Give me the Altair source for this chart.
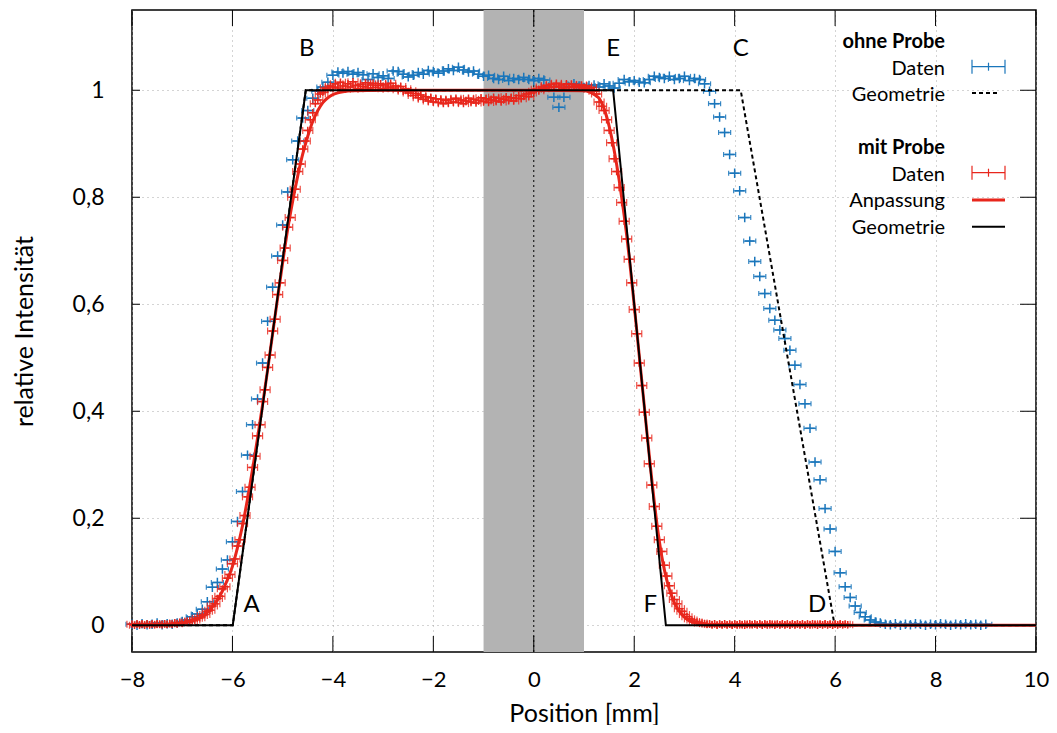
import altair as alt
import pandas as pd

# ------------------------------------------------------------------ data
# "ohne Probe" (without sample) measured intensity, step scan
blue_pos = [
    -8.0, -7.9, -7.8, -7.7, -7.6, -7.5, -7.4, -7.3, -7.2, -7.1,
    -7.0, -6.9, -6.8, -6.7, -6.6, -6.5, -6.4, -6.3, -6.2, -6.1,
    -6.0, -5.9, -5.8, -5.7, -5.6, -5.5, -5.4, -5.3, -5.2, -5.1,
    -5.0, -4.9, -4.8, -4.7, -4.6, -4.5, -4.4, -4.3, -4.2, -4.1,
    -4.0, -3.9, -3.8, -3.7, -3.6, -3.5, -3.4, -3.3, -3.2, -3.1,
    -3.0, -2.9, -2.8, -2.7, -2.6, -2.5, -2.4, -2.3, -2.2, -2.1,
    -2.0, -1.9, -1.8, -1.7, -1.6, -1.5, -1.4, -1.3, -1.2, -1.1,
    -1.0, -0.9, -0.8, -0.7, -0.6, -0.5, -0.4, -0.3, -0.2, -0.1,
    0.0, 0.1, 0.2, 0.3, 0.4, 0.5, 0.6, 0.7, 0.8, 0.9,
    1.0, 1.1, 1.2, 1.3, 1.4, 1.5, 1.6, 1.7, 1.8, 1.9,
    2.0, 2.1, 2.2, 2.3, 2.4, 2.5, 2.6, 2.7, 2.8, 2.9,
    3.0, 3.1, 3.2, 3.3, 3.4, 3.5, 3.6, 3.7, 3.8, 3.9,
    4.0, 4.1, 4.2, 4.3, 4.4, 4.5, 4.6, 4.7, 4.8, 4.9,
    5.0, 5.1, 5.2, 5.3, 5.4, 5.5, 5.6, 5.7, 5.8, 5.9,
    6.0, 6.1, 6.2, 6.3, 6.4, 6.5, 6.6, 6.7, 6.8, 6.9,
    7.0, 7.1, 7.2, 7.3, 7.4, 7.5, 7.6, 7.7, 7.8, 7.9,
    8.0, 8.1, 8.2, 8.3, 8.4, 8.5, 8.6, 8.7, 8.8, 8.9,
    9.0,
]
blue_int = [
    0.002, 0.000, 0.003, 0.001, 0.002, 0.004, 0.001, 0.003, 0.002, 0.004,
    0.007, 0.010, 0.016, 0.021, 0.030, 0.044, 0.071, 0.080, 0.105, 0.122,
    0.156, 0.194, 0.250, 0.318, 0.375, 0.423, 0.490, 0.568, 0.632, 0.690,
    0.748, 0.810, 0.870, 0.905, 0.948, 0.962, 0.985, 0.998, 1.006, 1.015,
    1.028, 1.034, 1.032, 1.035, 1.030, 1.033, 1.029, 1.020, 1.031, 1.024,
    1.027, 1.022, 1.036, 1.035, 1.030, 1.025, 1.028, 1.033, 1.030, 1.037,
    1.035, 1.032, 1.036, 1.040, 1.037, 1.043, 1.038, 1.034, 1.036, 1.030,
    1.026, 1.028, 1.022, 1.020, 1.026, 1.018, 1.022, 1.020, 1.024, 1.020,
    1.018, 1.022, 1.019, 1.006, 0.987, 0.968, 0.987, 1.006, 1.012, 1.008,
    1.005, 1.009, 1.010, 1.006, 1.012, 1.008, 1.004, 1.013, 1.020, 1.016,
    1.018, 1.015, 1.014, 1.020, 1.026, 1.024, 1.022, 1.026, 1.020, 1.022,
    1.026, 1.018, 1.022, 1.020, 1.012, 0.998, 0.975, 0.950, 0.921, 0.880,
    0.845, 0.812, 0.762, 0.718, 0.680, 0.652, 0.620, 0.592, 0.570, 0.552,
    0.536, 0.514, 0.486, 0.450, 0.414, 0.368, 0.305, 0.272, 0.218, 0.180,
    0.138, 0.098, 0.072, 0.052, 0.036, 0.024, 0.016, 0.010, 0.006, 0.004,
    0.002, 0.001, 0.003, 0.000, 0.002, 0.001, 0.003, 0.002, 0.000, 0.002,
    0.001, 0.003, 0.002, 0.000, 0.002, 0.001, 0.003, 0.001, 0.002, 0.000,
    0.002,
]
blue_err = 0.12

# "mit Probe" (with sample) measured intensity
red_pos = [
    -8.00, -7.95, -7.90, -7.85, -7.80, -7.75, -7.70, -7.65, -7.60, -7.55,
    -7.50, -7.45, -7.40, -7.35, -7.30, -7.25, -7.20, -7.15, -7.10, -7.05,
    -7.00, -6.95, -6.90, -6.85, -6.80, -6.75, -6.70, -6.65, -6.60, -6.55,
    -6.50, -6.45, -6.40, -6.35, -6.30, -6.25, -6.20, -6.15, -6.10, -6.05,
    -6.00, -5.95, -5.90, -5.85, -5.80, -5.75, -5.70, -5.65, -5.60, -5.55,
    -5.50, -5.45, -5.40, -5.35, -5.30, -5.25, -5.20, -5.15, -5.10, -5.05,
    -5.00, -4.95, -4.90, -4.85, -4.80, -4.75, -4.70, -4.65, -4.60, -4.55,
    -4.50, -4.45, -4.40, -4.35, -4.30, -4.25, -4.20, -4.15, -4.10, -4.05,
    -4.00, -3.95, -3.90, -3.85, -3.80, -3.75, -3.70, -3.65, -3.60, -3.55,
    -3.50, -3.45, -3.40, -3.35, -3.30, -3.25, -3.20, -3.15, -3.10, -3.05,
    -3.00, -2.95, -2.90, -2.85, -2.80, -2.75, -2.70, -2.65, -2.60, -2.55,
    -2.50, -2.45, -2.40, -2.35, -2.30, -2.25, -2.20, -2.15, -2.10, -2.05,
    -2.00, -1.95, -1.90, -1.85, -1.80, -1.75, -1.70, -1.65, -1.60, -1.55,
    -1.50, -1.45, -1.40, -1.35, -1.30, -1.25, -1.20, -1.15, -1.10, -1.05,
    -1.00, -0.95, -0.90, -0.85, -0.80, -0.75, -0.70, -0.65, -0.60, -0.55,
    -0.50, -0.45, -0.40, -0.35, -0.30, -0.25, -0.20, -0.15, -0.10, -0.05,
    0.00, 0.05, 0.10, 0.15, 0.20, 0.25, 0.30, 0.35, 0.40, 0.45,
    0.50, 0.55, 0.60, 0.65, 0.70, 0.75, 0.80, 0.85, 0.90, 0.95,
    1.00, 1.05, 1.10, 1.15, 1.20, 1.25, 1.30, 1.35, 1.40, 1.45,
    1.50, 1.55, 1.60, 1.65, 1.70, 1.75, 1.80, 1.85, 1.90, 1.95,
    2.00, 2.05, 2.10, 2.15, 2.20, 2.25, 2.30, 2.35, 2.40, 2.45,
    2.50, 2.55, 2.60, 2.65, 2.70, 2.75, 2.80, 2.85, 2.90, 2.95,
    3.00, 3.05, 3.10, 3.15, 3.20, 3.25, 3.30, 3.35, 3.40, 3.45,
    3.50, 3.55, 3.60, 3.65, 3.70, 3.75, 3.80, 3.85, 3.90, 3.95,
    4.00, 4.05, 4.10, 4.15, 4.20, 4.25, 4.30, 4.35, 4.40, 4.45,
    4.50, 4.55, 4.60, 4.65, 4.70, 4.75, 4.80, 4.85, 4.90, 4.95,
    5.00, 5.05, 5.10, 5.15, 5.20, 5.25, 5.30, 5.35, 5.40, 5.45,
    5.50, 5.55, 5.60, 5.65, 5.70, 5.75, 5.80, 5.85, 5.90, 5.95,
    6.00, 6.05, 6.10, 6.15, 6.20, 6.25,
]
red_int = [
    0.002, 0.000, 0.003, 0.001, 0.002, 0.000, 0.003, 0.001, 0.002, 0.001,
    0.003, 0.002, 0.001, 0.003, 0.002, 0.003, 0.002, 0.004, 0.003, 0.005,
    0.004, 0.006, 0.006, 0.008, 0.009, 0.010, 0.013, 0.014, 0.018, 0.020,
    0.026, 0.028, 0.036, 0.040, 0.050, 0.054, 0.068, 0.072, 0.088, 0.095,
    0.115, 0.124, 0.148, 0.160, 0.190, 0.205, 0.240, 0.258, 0.295, 0.316,
    0.354, 0.375, 0.418, 0.440, 0.482, 0.505, 0.550, 0.572, 0.618, 0.640,
    0.682, 0.705, 0.744, 0.762, 0.800, 0.815, 0.848, 0.862, 0.890, 0.905,
    0.925, 0.945, 0.958, 0.975, 0.982, 0.993, 0.996, 1.004, 1.002, 1.008,
    1.006, 1.012, 1.004, 1.015, 1.008, 1.002, 1.012, 1.006, 1.016, 1.009,
    1.003, 1.011, 1.007, 1.014, 1.004, 1.010, 1.013, 1.005, 1.009, 1.012,
    1.003, 1.010, 1.006, 1.013, 1.004, 1.008, 1.001, 1.007, 0.998, 1.003,
    0.995, 0.999, 0.990, 0.994, 0.986, 0.991, 0.983, 0.988, 0.980, 0.986,
    0.978, 0.984, 0.977, 0.983, 0.975, 0.981, 0.976, 0.983, 0.978, 0.985,
    0.977, 0.982, 0.975, 0.980, 0.985, 0.978, 0.983, 0.976, 0.981, 0.986,
    0.979, 0.984, 0.977, 0.982, 0.987, 0.980, 0.985, 0.978, 0.983, 0.988,
    0.981, 0.986, 0.980, 0.985, 0.990, 0.984, 0.989, 0.993, 0.988, 0.995,
    0.998, 1.002, 0.999, 1.006, 1.003, 1.009, 1.005, 1.011, 1.007, 1.013,
    1.006, 1.010, 1.004, 1.012, 1.007, 1.011, 1.005, 1.009, 1.006, 1.010,
    1.004, 1.008, 1.002, 1.005, 0.998, 0.993, 0.978, 0.970, 0.962, 0.945,
    0.925, 0.902, 0.872, 0.848, 0.818, 0.790, 0.755, 0.722, 0.684, 0.640,
    0.590, 0.545, 0.490, 0.448, 0.398, 0.350, 0.302, 0.262, 0.222, 0.185,
    0.160, 0.138, 0.112, 0.092, 0.074, 0.060, 0.048, 0.040, 0.031, 0.026,
    0.020, 0.016, 0.012, 0.010, 0.007, 0.006, 0.004, 0.004, 0.003, 0.002,
    0.002, 0.001, 0.003, 0.000, 0.002, 0.001, 0.003, 0.001, 0.002, 0.000,
    0.002, 0.001, 0.003, 0.001, 0.000, 0.002, 0.003, 0.001, 0.002, 0.001,
    0.003, 0.000, 0.002, 0.001, 0.003, 0.002, 0.000, 0.002, 0.001, 0.003,
    0.001, 0.002, 0.000, 0.003, 0.001, 0.002, 0.001, 0.003, 0.000, 0.002,
    0.001, 0.003, 0.002, 0.000, 0.002, 0.001, 0.003, 0.001, 0.002, 0.000,
    0.002, 0.001, 0.003, 0.001, 0.002, 0.001,
]
red_err = 0.10

# fitted curve ("Anpassung")
fit_pos = [
    -8.0, -7.6, -7.4, -7.2, -7.0, -6.9, -6.8, -6.7, -6.6, -6.5,
    -6.4, -6.3, -6.2, -6.1, -6.0, -5.9, -5.8, -5.7, -5.6, -5.5,
    -5.4, -5.3, -5.2, -5.1, -5.0, -4.9, -4.8, -4.7, -4.6, -4.5,
    -4.4, -4.3, -4.2, -4.1, -4.0, -3.9, -3.8, -3.6, -3.0, 0.0,
    1.0, 1.1, 1.2, 1.25, 1.3, 1.35, 1.4, 1.45, 1.5, 1.55,
    1.6, 1.65, 1.7, 1.75, 1.8, 1.85, 1.9, 1.95, 2.0, 2.05,
    2.1, 2.15, 2.2, 2.25, 2.3, 2.35, 2.4, 2.45, 2.5, 2.55,
    2.6, 2.65, 2.7, 2.75, 2.8, 2.85, 2.9, 2.95, 3.0, 3.1,
    3.2, 3.3, 3.4, 3.6, 10.0,
]
fit_int = [
    0.000, 0.001, 0.001, 0.002, 0.004, 0.006, 0.008, 0.012, 0.017, 0.024,
    0.034, 0.047, 0.064, 0.085, 0.110, 0.145, 0.186, 0.236, 0.291, 0.350,
    0.412, 0.477, 0.545, 0.612, 0.678, 0.740, 0.793, 0.840, 0.881, 0.914,
    0.942, 0.962, 0.977, 0.986, 0.992, 0.995, 0.997, 0.999, 1.000, 1.000,
    0.999, 0.997, 0.992, 0.989, 0.985, 0.977, 0.966, 0.951, 0.933, 0.912,
    0.888, 0.861, 0.832, 0.800, 0.766, 0.729, 0.688, 0.644, 0.598, 0.551,
    0.504, 0.457, 0.410, 0.363, 0.317, 0.272, 0.230, 0.191, 0.157, 0.128,
    0.104, 0.084, 0.067, 0.053, 0.042, 0.033, 0.026, 0.020, 0.015, 0.008,
    0.005, 0.003, 0.001, 0.000, 0.000,
]

# geometric expectation (trapezoids)
geo_mit_pos = [-8.0, -5.994, -4.54, 1.58, 2.63, 10.0]
geo_mit_int = [0.0, 0.0, 1.0, 1.0, 0.0, 0.0]
geo_ohne_pos = [-8.0, -5.994, -4.54, 4.12, 5.99, 10.0]
geo_ohne_int = [0.0, 0.0, 1.0, 1.0, 0.0, 0.0]

# corner labels
corner_text = ["A", "B", "C", "D", "E", "F"]
corner_pos = [-5.62, -4.52, 4.12, 5.64, 1.58, 2.32]
corner_int = [0.037, 1.077, 1.077, 0.037, 1.077, 0.037]

# shaded region
band_lo = [-1.0]
band_hi = [1.0]

x_ticks = [-8, -6, -4, -2, 0, 2, 4, 6, 8, 10]
y_ticks = [0, 0.2, 0.4, 0.6, 0.8, 1]

# ------------------------------------------------------------------ style
FONT = "Lato"
W, H = 904, 642
BLUE = "#1a76bb"
RED = "#e8261c"
GRAY = "#b3b3b3"

x_scale = alt.Scale(domain=[-8, 10], nice=False, zero=False)
y_scale = alt.Scale(domain=[-0.05, 1.15], nice=False, zero=False)

x_axis = alt.Axis(
    values=x_ticks, title="Position [mm]", grid=True, gridDash=[1, 4],
    gridColor="#a8a8a8", gridWidth=1, ticks=False, tickSize=0, domain=False,
    labelFont=FONT, labelFontSize=22, labelColor="black", labelPadding=17,
    labelFlush=False, labelExpr="replace(datum.label, '-', '\u2212')",
    titleFont=FONT, titleFontSize=25, titleFontWeight="normal",
    titleColor="black", titlePadding=11,
)
y_axis = alt.Axis(
    values=y_ticks, title="relative Intensität", grid=True, gridDash=[1, 4],
    gridColor="#a8a8a8", gridWidth=1, ticks=False, tickSize=0, domain=False,
    labelFont=FONT, labelFontSize=23, labelColor="black", labelPadding=28,
    labelFlush=False, labelExpr="replace(format(datum.value, '~g'), '.', ',')",
    titleFont=FONT, titleFontSize=25, titleFontWeight="normal",
    titleColor="black", titlePadding=35,
)


def XQ(field):
    return alt.X(field, type="quantitative", scale=x_scale, axis=x_axis)


def YQ(field):
    return alt.Y(field, type="quantitative", scale=y_scale, axis=y_axis)


one = pd.DataFrame({"k": [0]})

# ------------------------------------------------------------------ frames
blue_df = pd.DataFrame({"x": blue_pos, "y": blue_int})
blue_df["xlo"] = blue_df["x"] - blue_err
blue_df["xhi"] = blue_df["x"] + blue_err
red_df = pd.DataFrame({"x": red_pos, "y": red_int})
red_df["xlo"] = red_df["x"] - red_err
red_df["xhi"] = red_df["x"] + red_err
fit_df = pd.DataFrame({"x": fit_pos, "y": fit_int})
gmit_df = pd.DataFrame({"x": geo_mit_pos, "y": geo_mit_int})
gohne_df = pd.DataFrame({"x": geo_ohne_pos, "y": geo_ohne_int})
lab_df = pd.DataFrame({"x": corner_pos, "y": corner_int, "t": corner_text})
band_df = pd.DataFrame({"lo": band_lo, "hi": band_hi})
xt_df = pd.DataFrame({"v": x_ticks})
yt_df = pd.DataFrame({"v": y_ticks})

CROSS = "M-1,0L1,0M0,-1L0,1"


def data_layers(df, color, opacity, cap, cross_size):
    bars = alt.Chart(df).mark_rule(color=color, strokeWidth=1.4, opacity=opacity).encode(
        x=XQ("xlo"), x2="xhi", y=YQ("y"))
    capl = alt.Chart(df).mark_tick(color=color, thickness=1.2, size=cap,
                                   orient="vertical", opacity=opacity).encode(
        x=XQ("xlo"), y=YQ("y"))
    capr = alt.Chart(df).mark_tick(color=color, thickness=1.2, size=cap,
                                   orient="vertical", opacity=opacity).encode(
        x=XQ("xhi"), y=YQ("y"))
    pts = alt.Chart(df).mark_point(shape=CROSS, filled=False, color=color,
                                   strokeWidth=1.5, size=cross_size, opacity=1).encode(
        x=XQ("x"), y=YQ("y"))
    return [bars, capl, capr, pts]


band = alt.Chart(band_df).mark_rect(color=GRAY).encode(
    x=XQ("lo"), x2="hi", y=alt.value(0), y2=alt.value(H))
axis_y_holder = alt.Chart(yt_df).mark_rule(opacity=0).encode(y=YQ("v"))
zero_line = alt.Chart(pd.DataFrame({"v": [0.0]})).mark_rule(
    color="black", strokeWidth=1, strokeDash=[2, 3]).encode(x=XQ("v"))

geo_ohne = alt.Chart(gohne_df).mark_line(color="black", strokeWidth=2,
                                         strokeDash=[4, 3]).encode(
    x=XQ("x"), y=YQ("y"))
fit_line = alt.Chart(fit_df).mark_line(color=RED, strokeWidth=3,
                                       interpolate="monotone").encode(
    x=XQ("x"), y=YQ("y"))
geo_mit = alt.Chart(gmit_df).mark_line(color="black", strokeWidth=2).encode(
    x=XQ("x"), y=YQ("y"))
labels = alt.Chart(lab_df).mark_text(font=FONT, fontSize=24, color="black",
                                     align="center", baseline="middle").encode(
    x=XQ("x"), y=YQ("y"), text="t:N")

# inward tick marks (gnuplot style)
ticks_bottom = alt.Chart(xt_df).mark_rule(color="black", strokeWidth=1).encode(
    x=XQ("v"), y=alt.value(H), y2=alt.value(H - 16))
ticks_top = alt.Chart(xt_df).mark_rule(color="black", strokeWidth=1).encode(
    x=XQ("v"), y=alt.value(0), y2=alt.value(16))
ticks_left = alt.Chart(yt_df).mark_rule(color="black", strokeWidth=1).encode(
    y=YQ("v"), x=alt.value(0), x2=alt.value(8))
ticks_right = alt.Chart(yt_df).mark_rule(color="black", strokeWidth=1).encode(
    y=YQ("v"), x=alt.value(W), x2=alt.value(W - 16))


# ------------------------------------------------------------------ key
KX = W - 91          # right edge of key texts (plot coordinates)
SX1, SX2 = W - 64, W - 31


def key_text(txt, y, bold=False):
    return alt.Chart(one).mark_text(
        font=FONT, fontSize=20, color="black", align="right", baseline="middle",
        fontWeight="bold" if bold else "normal").encode(
        x=alt.value(KX), y=alt.value(y), text=alt.value(txt))


def key_rule(x1, x2, y1, y2, color, width, dash=None, opacity=1):
    kw = dict(color=color, strokeWidth=width, opacity=opacity)
    if dash:
        kw["strokeDash"] = dash
    return alt.Chart(one).mark_rule(**kw).encode(
        x=alt.value(x1), x2=alt.value(x2), y=alt.value(y1), y2=alt.value(y2))


def key_errbar(y, color):
    mid = (SX1 + SX2) / 2
    return [
        key_rule(SX1, SX2, y, y, color, 1.2),
        key_rule(SX1, SX1, y - 7, y + 7, color, 1.2),
        key_rule(SX2, SX2, y - 7, y + 7, color, 1.2),
        key_rule(mid, mid, y - 4, y + 4, color, 1.2),
    ]


key = [
    key_text("ohne Probe", 31.5, True),
    key_text("Daten", 58.5),
    key_text("Geometrie", 85),
    key_text("mit Probe", 138, True),
    key_text("Daten", 165),
    key_text("Anpassung", 191),
    key_text("Geometrie", 218),
    *key_errbar(56.7, BLUE),
    key_rule(SX1, SX2 - 5, 83, 83, "black", 2, [4, 3]),
    *key_errbar(162.7, RED),
    key_rule(SX1, SX2, 190, 190, RED, 3),
    key_rule(SX1, SX2, 216.7, 216.7, "black", 2),
]

layers = (
    [band, axis_y_holder, zero_line]
    + data_layers(blue_df, BLUE, 0.85, 5, 90)
    + [geo_ohne]
    + data_layers(red_df, RED, 0.8, 7, 56)
    + [fit_line, geo_mit, labels]
    + key
    + [ticks_bottom, ticks_top, ticks_left, ticks_right]
)

chart = alt.layer(*layers).properties(
    width=W, height=H,
    autosize=alt.AutoSizeParams(type="none"),
    padding={"left": 124, "top": 2, "right": 13, "bottom": 73},
).configure_view(stroke="black", strokeWidth=1.5)

chart.save("out.html", embed_options={"renderer": "svg", "actions": False})
